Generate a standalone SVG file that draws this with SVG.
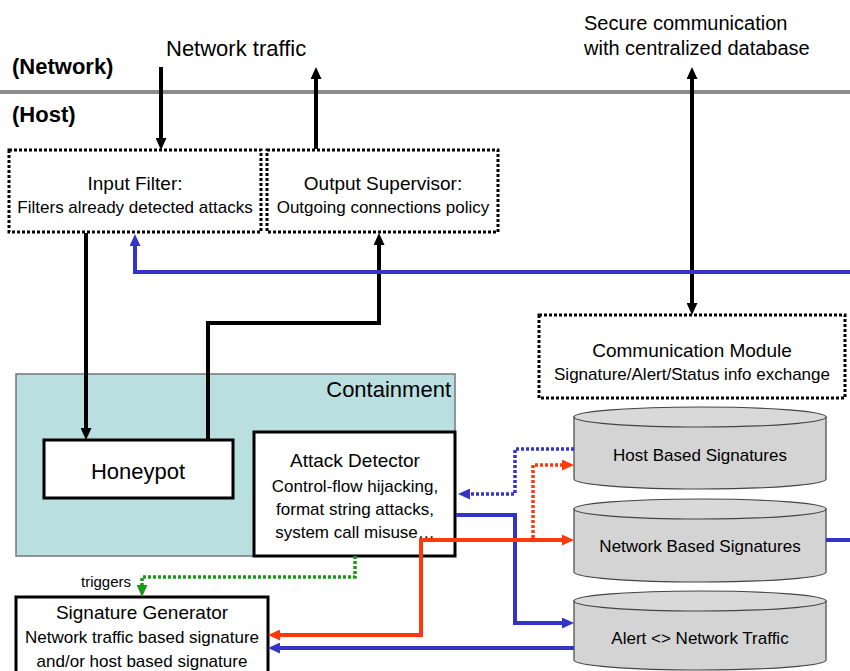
<svg xmlns="http://www.w3.org/2000/svg" width="850" height="671" viewBox="0 0 850 671">
  <style>
    text { font-family: "Liberation Sans", Arial, sans-serif; fill: #000; }
    .lbl { font-size: 22px; }
    .zone { font-size: 22px; font-weight: bold; }
    .title { font-size: 19px; text-anchor: middle; }
    .sub { font-size: 17px; text-anchor: middle; }
    .dotbox { fill: #fff; stroke: #000; stroke-width: 3; stroke-dasharray: 3 2; }
    .box { fill: #fff; stroke: #000; stroke-width: 3; }
    .cyl { fill: #d4d4d4; stroke: #444; stroke-width: 1.2; }
    .cyltop { fill: #d9d9d9; stroke: #444; stroke-width: 1.2; }
    .blk { fill: none; stroke: #000; stroke-width: 4; }
    .blue { fill: none; stroke: #3434c8; stroke-width: 4; }
    .red { fill: none; stroke: #ff3a0a; stroke-width: 4; }
    .bluedot { fill: none; stroke: #3434c8; stroke-width: 3.5; stroke-dasharray: 3 2; }
    .reddot { fill: none; stroke: #ff3a0a; stroke-width: 3.5; stroke-dasharray: 3 2; }
    .greendot { fill: none; stroke: #1a9a1a; stroke-width: 3.5; stroke-dasharray: 3 2; }
  </style>
  <defs>
    <marker id="ah-black" markerUnits="userSpaceOnUse" markerWidth="12" markerHeight="11" refX="4" refY="5.5" orient="auto-start-reverse">
      <path d="M0,0 L12,5.5 L0,11 z" fill="#000"/>
    </marker>
    <marker id="ah-blue" markerUnits="userSpaceOnUse" markerWidth="12" markerHeight="11" refX="4" refY="5.5" orient="auto-start-reverse">
      <path d="M0,0 L12,5.5 L0,11 z" fill="#3434c8"/>
    </marker>
    <marker id="ah-red" markerUnits="userSpaceOnUse" markerWidth="12" markerHeight="11" refX="4" refY="5.5" orient="auto-start-reverse">
      <path d="M0,0 L12,5.5 L0,11 z" fill="#ff3a0a"/>
    </marker>
    <marker id="ah-green" markerUnits="userSpaceOnUse" markerWidth="12" markerHeight="11" refX="4" refY="5.5" orient="auto-start-reverse">
      <path d="M0,0 L12,5.5 L0,11 z" fill="#1a9a1a"/>
    </marker>
  </defs>

  <rect width="850" height="671" fill="#fff"/>

  <!-- network / host boundary -->
  <g id="boundary">
    <line x1="0" y1="92" x2="850" y2="92" stroke="#8c8c8c" stroke-width="4"/>
    <text class="zone" x="12" y="74">(Network)</text>
    <text class="zone" x="12" y="122">(Host)</text>
    <text class="lbl" x="166" y="56">Network traffic</text>
    <text x="584" y="30" font-size="20">Secure communication</text>
    <text x="584" y="55" font-size="20">with centralized database</text>
  </g>

  <!-- containment area -->
  <g id="containment">
    <rect x="16" y="374" width="439" height="182" fill="#b9dfe1" stroke="#777" stroke-width="1.5"/>
    <text class="lbl" x="451" y="397" text-anchor="end">Containment</text>
  </g>

  <g id="input-filter">
    <rect class="dotbox" x="9" y="150" width="252" height="82"/>
    <text class="title" x="135" y="190">Input Filter:</text>
    <text class="sub" x="135" y="213">Filters already detected attacks</text>
  </g>

  <g id="output-supervisor">
    <rect class="dotbox" x="267" y="150" width="231" height="82"/>
    <text class="title" x="383" y="190">Output Supervisor:</text>
    <text class="sub" x="383" y="213">Outgoing connections policy</text>
  </g>

  <g id="communication-module">
    <rect class="dotbox" x="539" y="315" width="306" height="83"/>
    <text class="title" x="692" y="357">Communication Module</text>
    <text class="sub" x="692" y="380">Signature/Alert/Status info exchange</text>
  </g>

  <g id="honeypot">
    <rect class="box" x="44" y="440" width="189" height="58"/>
    <text class="lbl" x="138" y="479" text-anchor="middle">Honeypot</text>
  </g>

  <g id="attack-detector">
    <rect class="box" x="254" y="432" width="201" height="124"/>
    <text class="title" x="355" y="467">Attack Detector</text>
    <text class="sub" x="355" y="492">Control-flow hijacking,</text>
    <text class="sub" x="355" y="515">format string attacks,</text>
    <text class="sub" x="355" y="538">system call misuse…</text>
  </g>

  <g id="signature-generator">
    <rect class="box" x="16" y="597" width="252" height="84"/>
    <text class="title" x="142" y="619">Signature Generator</text>
    <text class="sub" x="142" y="643">Network traffic based signature</text>
    <text class="sub" x="142" y="667">and/or host based signature</text>
  </g>

  <g id="host-signatures">
    <path class="cyl" d="M574,417 V479 A126,10 0 0 0 826,479 V417 Z"/>
    <ellipse class="cyltop" cx="700" cy="417" rx="126" ry="10"/>
    <text class="sub" x="700" y="461">Host Based Signatures</text>
  </g>

  <g id="network-signatures">
    <path class="cyl" d="M574,509 V572 A126,10 0 0 0 826,572 V509 Z"/>
    <ellipse class="cyltop" cx="700" cy="509" rx="126" ry="10"/>
    <text class="sub" x="700" y="552">Network Based Signatures</text>
  </g>

  <g id="alert-traffic">
    <path class="cyl" d="M574,601 V660 A126,10 0 0 0 826,660 V601 Z"/>
    <ellipse class="cyltop" cx="700" cy="601" rx="126" ry="10"/>
    <text class="sub" x="700" y="644">Alert &lt;&gt; Network Traffic</text>
  </g>

  <!-- connectors -->
  <g id="connectors">
    <path class="blk" d="M161,67 V142" marker-end="url(#ah-black)"/>
    <path class="blk" d="M316,149 V75" marker-end="url(#ah-black)"/>
    <path class="blk" d="M692,75 V307" marker-start="url(#ah-black)" marker-end="url(#ah-black)"/>
    <path class="blk" d="M86,233 V432" marker-end="url(#ah-black)"/>
    <path class="blk" d="M208,440 V323 H379 V241" marker-end="url(#ah-black)"/>

    <path class="blue" d="M850,272 H135 V242" marker-end="url(#ah-blue)"/>
    <path class="blue" d="M456,515 H515 V623 H566" marker-end="url(#ah-blue)"/>
    <path class="blue" d="M574,648 H276" marker-end="url(#ah-blue)"/>
    <path class="blue" d="M826,540 H850"/>
    <path class="bluedot" d="M574,449 H515 V494 H466" marker-end="url(#ah-blue)"/>

    <path class="reddot" d="M533,538 V465 H566" marker-end="url(#ah-red)"/>
    <path class="red" d="M276,635 H421 V540 H566" marker-start="url(#ah-red)" marker-end="url(#ah-red)"/>

    <path class="greendot" d="M355,556 V577 H142 V589" marker-end="url(#ah-green)"/>
    <text x="81" y="587" font-size="15">triggers</text>
  </g>
</svg>
